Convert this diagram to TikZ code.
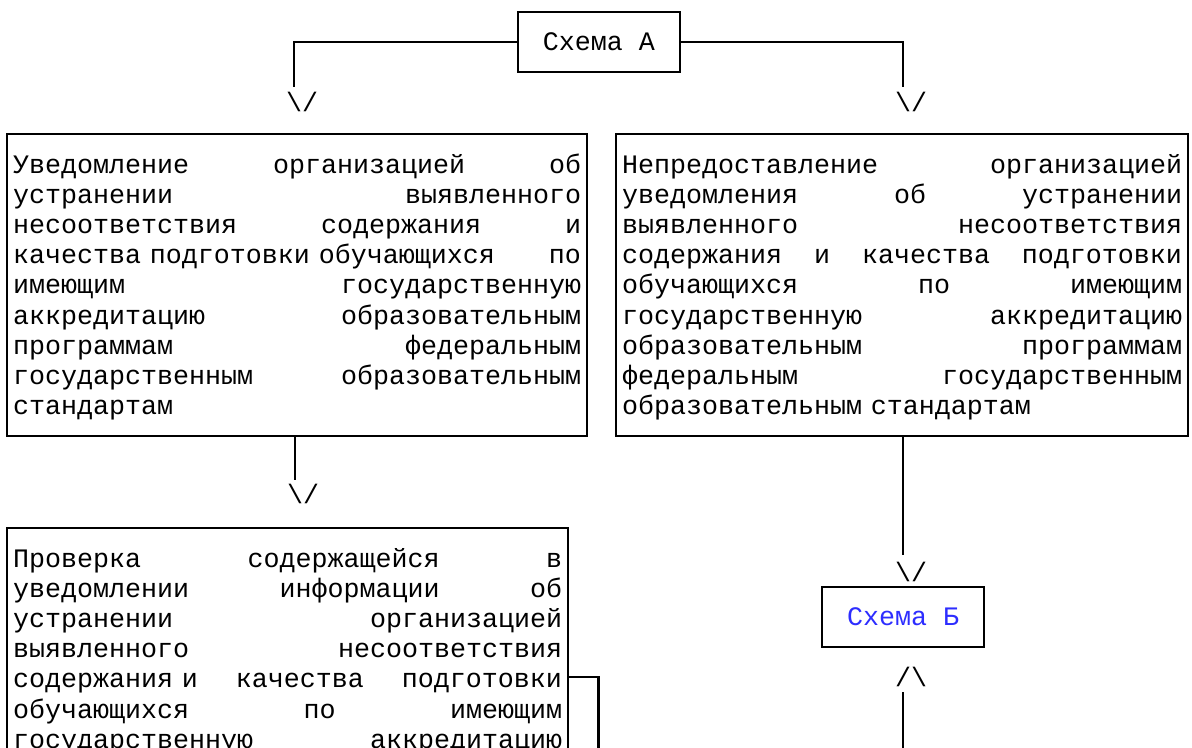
\documentclass[tikz,border=0pt]{standalone}
\usepackage{fontspec}
\setmainfont{Liberation Mono}
\definecolor{linkblue}{RGB}{45,45,255}
\tikzset{
  every node/.style={font=\fontsize{20}{22.65}\selectfont},
  box/.style={draw, line width=1.6pt, inner xsep=4.5pt, inner ysep=0pt},
  textbox/.style={box, anchor=north west, align=left, text height=29.25pt, text width=#1},
  schemebox/.style={box, minimum width=121.5pt, minimum height=45pt},
  tip/.style={inner sep=0pt},
  link/.style={line width=1.6pt}
}
\newcommand{\tipdown}{\textbackslash/}
\newcommand{\tipup}{/\textbackslash}
\begin{document}
\begin{tikzpicture}[x=0.75pt,y=-0.75pt]
            \useasboundingbox (0,0) rectangle (1192,747);
            \clip (0,0) rectangle (1192,747);
            % Coordinates
            \coordinate (K1) at (294,87);
            \coordinate (K2) at (903,87);
            \coordinate (K3) at (295,480);
            \coordinate (K4) at (903,555);
            \coordinate (K5) at (903,692);
            \coordinate (K6) at (903,760);
            \coordinate (K7) at (598.5,677);
            \coordinate (K8) at (598.5,760);
            % Boxes
            \node[schemebox] (A) at (599,42) {Схема А};
            \node[textbox=426pt, text depth=197.25pt] (U) at (6,133) {%
              Уведомление\hfill организацией\hfill об\\
              устранении\hfill выявленного\\
              несоответствия\hfill содержания\hfill и\\
              качества подготовки обучающихся\hfill по\\
              имеющим\hfill государственную\\
              аккредитацию\hfill образовательным\\
              программам\hfill федеральным\\
              государственным\hfill образовательным\\
              стандартам};
            \node[textbox=420pt, text depth=197.25pt] (N) at (615,133) {%
              Непредоставление\hfill организацией\\
              уведомления\hfill об\hfill устранении\\
              выявленного\hfill несоответствия\\
              содержания\hfill и\hfill качества\hfill подготовки\\
              обучающихся\hfill по\hfill имеющим\\
              государственную\hfill аккредитацию\\
              образовательным\hfill программам\\
              федеральным\hfill государственным\\
              образовательным стандартам};
            \node[textbox=411.75pt, text depth=151.95pt] (P) at (6,527) {%
              Проверка\hfill содержащейся\hfill в\\
              уведомлении\hfill информации\hfill об\\
              устранении\hfill организацией\\
              выявленного\hfill несоответствия\\
              содержания и\hfill качества\hfill подготовки\\
              обучающихся\hfill по\hfill имеющим\\
              государственную\hfill аккредитацию};
            \node[schemebox, text=linkblue] (B) at (903,617) {Схема Б};
            % Labels
            \node[tip] (T1) at (302,102) {\tipdown};
            \node[tip] (T2) at (911,102) {\tipdown};
            \node[tip] (T3) at (303,494) {\tipdown};
            \node[tip] (T4) at (911,571.5) {\tipdown};
            \node[tip] (T5) at (911,677) {\tipup};

            % draw connecting lines
            \draw[link] (A.west) -| (K1);
            \draw[link] (A.east) -| (K2);
            \draw[link] (K3 |- U.south) -- (K3);
            \draw[link] (K4 |- N.south) -- (K4);
            \draw[link] (K5) -- (K6);
            \draw[link] (P.east |- K7) -- (K7) -- (K8);
\end{tikzpicture}
\end{document}
